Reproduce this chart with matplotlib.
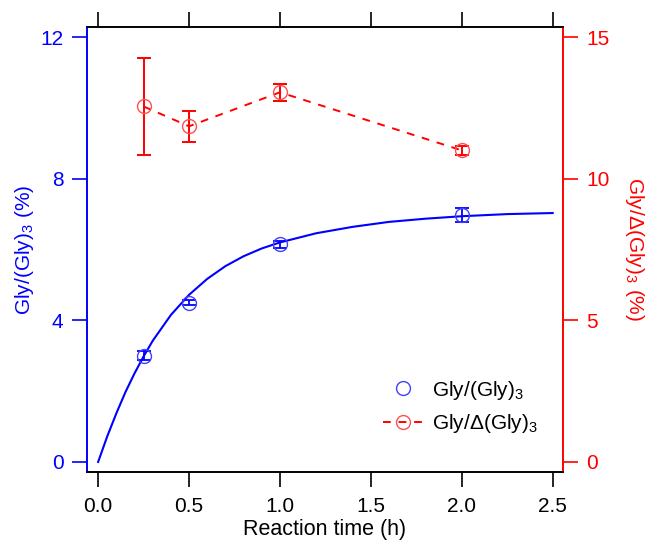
import matplotlib.pyplot as plt
from matplotlib.lines import Line2D

plt.rcParams['font.family'] = ['Liberation Sans', 'DejaVu Sans']
plt.rcParams['mathtext.fontset'] = 'custom'
plt.rcParams['mathtext.rm'] = 'Liberation Sans'

# measured points
t_pts = [0.25, 0.5, 1.0, 2.0]
gly = [3.0, 4.5, 6.15, 6.98]
gly_err = [0.12, 0.08, 0.1, 0.2]
gly_d = [12.55, 11.85, 13.05, 11.0]
gly_d_err = [1.7, 0.55, 0.3, 0.15]

# fitted curve
t_fit = [0.0, 0.05, 0.1, 0.15, 0.2, 0.25, 0.3, 0.4, 0.5, 0.6, 0.7, 0.8, 0.9, 1.0,
         1.2, 1.4, 1.6, 1.8, 2.0, 2.25, 2.5]
y_fit = [0.0, 0.72, 1.37, 1.97, 2.5, 2.98, 3.42, 4.15, 4.72, 5.17, 5.53, 5.81, 6.03, 6.2,
         6.46, 6.64, 6.78, 6.87, 6.94, 7.0, 7.03]

blue = '#0000ff'
red = '#ff0000'
fs = 15

fig = plt.figure(figsize=(6.46, 5.43), dpi=100)
ax = fig.add_axes([0.135, 0.131, 0.736, 0.819])
ax2 = ax.twinx()

ax.plot(t_fit, y_fit, color=blue, lw=1.5)
ax.errorbar(t_pts, gly, yerr=gly_err, fmt='o', mfc='none', mec='#4040ff', ms=10,
            ecolor=blue, elinewidth=1.3, capsize=5, capthick=1.3)

ax2.errorbar(t_pts, gly_d, yerr=gly_d_err, fmt='o--', color=red, mfc='none', mec='#ff5050',
             ms=10, lw=1.4, dashes=(4, 4), ecolor=red, elinewidth=1.4, capsize=5, capthick=1.4)

ax.set_xlim(-0.06, 2.555)
ax.set_ylim(-0.28, 12.28)
ax2.set_ylim(-0.35, 15.35)
ax.set_xticks([0.0, 0.5, 1.0, 1.5, 2.0, 2.5])
ax.set_yticks([0, 4, 8, 12])
ax2.set_yticks([0, 5, 10, 15])

ax.set_xlabel('Reaction time (h)', fontsize=15.5, labelpad=2)
ax.set_ylabel('Gly/(Gly)$_3$ (%)', color=blue, fontsize=fs, labelpad=3)
ax2.set_ylabel('Gly/$\\Delta$(Gly)$_3$ (%)', color=red, fontsize=fs, rotation=270, labelpad=26)

ax.tick_params(axis='x', direction='out', top=True, length=11, width=1.2, labelsize=fs, pad=7)
ax.tick_params(axis='y', direction='out', colors=blue, length=11, width=1.2, labelsize=fs, pad=6)
ax2.tick_params(axis='y', direction='out', colors=red, length=11, width=1.2, labelsize=fs, pad=6)

for a in (ax, ax2):
    a.spines['left'].set_color(blue)
    a.spines['right'].set_color(red)
    for s in a.spines.values():
        s.set_linewidth(1.2)

handles = [
    Line2D([], [], ls='none', marker='o', mfc='none', mec='#4040ff', ms=10),
    Line2D([], [], ls='--', dashes=(4, 4), color=red, lw=1.4, marker='o', mfc='none',
           mec='#ff5050', ms=10),
]
ax2.legend(handles, ['Gly/(Gly)$_3$', 'Gly/$\\Delta$(Gly)$_3$'], loc='upper left',
           bbox_to_anchor=(0.58, 0.318), bbox_transform=fig.transFigure, borderaxespad=0,
           frameon=False, fontsize=fs, handlelength=1.9, handletextpad=0.45,
           labelspacing=0.5)

fig.savefig('out.png', dpi=100)
